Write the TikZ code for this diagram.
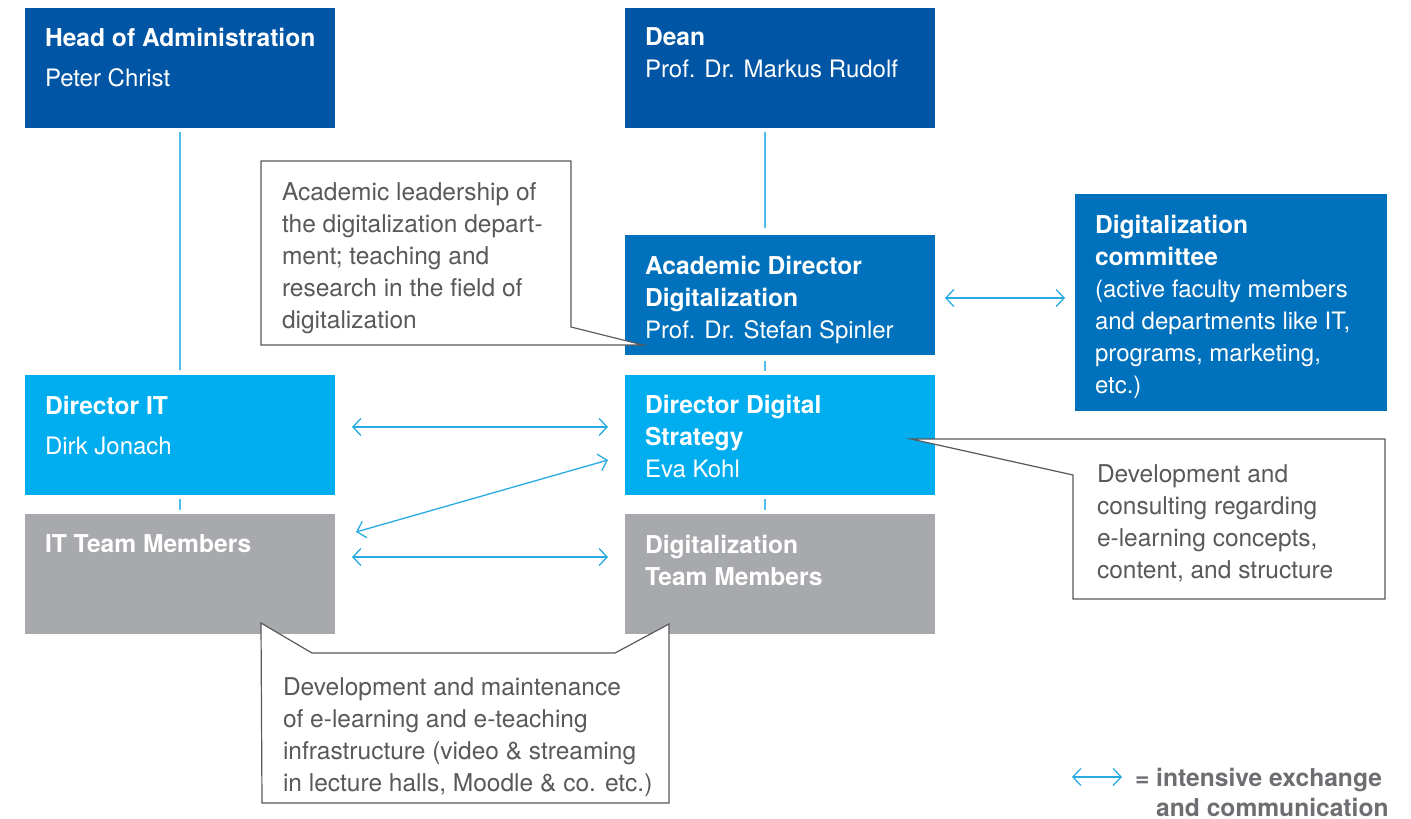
\documentclass[tikz,border=0pt]{standalone}
\usepackage{fontspec}
\setmainfont{TeX Gyre Heros}
\usetikzlibrary{arrows.meta,calc}
\definecolor{dkblue}{HTML}{0055A4}
\definecolor{mdblue}{HTML}{0071BC}
\definecolor{ltblue}{HTML}{00AEEF}
\definecolor{boxgray}{HTML}{A7A9AC}
\definecolor{linkblue}{HTML}{29ABE2}
\definecolor{vlineblue}{HTML}{4DBDEB}
\definecolor{callgray}{HTML}{58595B}
\definecolor{legendgray}{HTML}{6D6E71}
\newcommand{\bx}[1]{{\fontsize{24.6}{32}\selectfont\bfseries #1}}
\begin{document}
\begin{tikzpicture}[x=1pt,y=-1pt,
  box/.style={draw=none, inner sep=0pt, outer sep=0pt, minimum width=310pt, minimum height=120pt, anchor=north west},
  txt/.style={anchor=north west, inner sep=0pt, outer sep=0pt, align=left, text=white, font=\fontsize{24}{32}\selectfont},
  ctxt/.style={txt, text=callgray, font=\fontsize{24.5}{32}\selectfont},
  vline/.style={draw=vlineblue, line width=1.3pt},
  xarrow/.style={draw=linkblue, line width=1.3pt, {Straight Barb[length=8pt,width=17pt]}-{Straight Barb[length=8pt,width=17pt]}},
  callout/.style={draw=callgray, fill=white, line width=1.2pt, line join=miter}
]
\useasboundingbox (0,0) rectangle (1411,819);
% boxes
\node[box, fill=dkblue] (hoa) at (25,8) {};
\node[box, fill=dkblue] (dean) at (625,8) {};
\node[box, fill=mdblue] (acd) at (625,235) {};
\node[box, fill=mdblue, minimum width=312pt, minimum height=217pt] (com) at (1075,194) {};
\node[box, fill=ltblue] (dit) at (25,375) {};
\node[box, fill=ltblue] (dds) at (625,375) {};
\node[box, fill=boxgray] (itt) at (25,514) {};
\node[box, fill=boxgray] (dtm) at (625,514) {};
% vertical connectors
\draw[vline, shorten <=4pt, shorten >=5pt] (hoa.south) -- (dit.north);
\draw[vline, shorten <=4pt, shorten >=7pt] ([xshift=-15pt]dean.south) -- ([xshift=-15pt]acd.north);
\draw[vline, shorten <=6pt, shorten >=4pt] ([xshift=-15pt]acd.south) -- ([xshift=-15pt]dds.north);
\draw[vline, shorten <=4pt, shorten >=4pt] (dit.south) -- (itt.north);
\draw[vline, shorten <=4pt, shorten >=4pt] ([xshift=-15pt]dds.south) -- ([xshift=-15pt]dtm.north);
% exchange arrows
\draw[xarrow, shorten <=17pt, shorten >=17pt] ([yshift=8pt]dit.east) -- ([yshift=8pt]dds.west);
\draw[xarrow] ([shift={(21pt,42pt)}]itt.east) -- ([shift={(-17pt,-25pt)}]dds.west);
\draw[xarrow, shorten <=17pt, shorten >=17pt] ([yshift=17pt]itt.east) -- ([yshift=17pt]dtm.west);
\draw[xarrow] ([shift={(10pt,-3pt)}]acd.east) -- ([shift={(-10pt,4.5pt)}]com.west);
% callouts
\draw[callout] (261,161) -- (571,161) -- (571,327) -- (643,345) -- (261,345) -- cycle;
\draw[callout] (911,439) -- (1385,439) -- (1385,599) -- (1073,599) -- (1073,475) -- cycle;
\draw[callout] (261,623) -- (312,653) -- (615,653) -- (669,624) -- (669,803) -- (262,803) -- cycle;
% box texts
\node[txt] (hoat) at (45,28) {\bx{Head of Administration}\\[8pt]Peter Christ};
\node[txt] (deant) at (645,28) {\bx{Dean}\\Prof. Dr. Markus Rudolf};
\node[txt] (acdt) at (645,256) {\bx{Academic Director}\\\bx{Digitalization}\\Prof. Dr. Stefan Spinler};
\node[txt] (comt) at (1095,215) {\bx{Digitalization}\\\bx{committee}\\(active faculty members\\and departments like IT,\\programs, marketing,\\etc.)};
\node[txt] (ditt) at (45,396) {\bx{Director IT}\\[8pt]Dirk Jonach};
\node[txt] (ddst) at (645,395) {\bx{Director Digital}\\\bx{Strategy}\\Eva Kohl};
\node[txt] (ittt) at (45,535) {\bx{IT Team Members}};
\node[txt] (dtmt) at (645,535) {\bx{Digitalization}\\\bx{Team Members}};
% callout texts
\node[ctxt] (c1t) at (282,183) {Academic leadership of\\the digitalization depart-\\ment; teaching and\\research in the field of\\digitalization};
\node[ctxt] (c2t) at (1097,465) {Development and\\consulting regarding\\e-learning concepts,\\content, and structure};
\node[ctxt] (c3t) at (283,678) {Development and maintenance\\of e-learning and e-teaching\\infrastructure (video \& streaming\\in lecture halls, Moodle \& co. etc.)};
% legend
\coordinate (la) at (1072,777);
\coordinate (lb) at (1122,777);
\draw[xarrow] (la) -- (lb);
\node[txt, text=legendgray] (legt) at (1135,768) {\bx{= intensive exchange}\\[-2pt]\bx{\hphantom{= }and communication}};
\end{tikzpicture}
\end{document}
